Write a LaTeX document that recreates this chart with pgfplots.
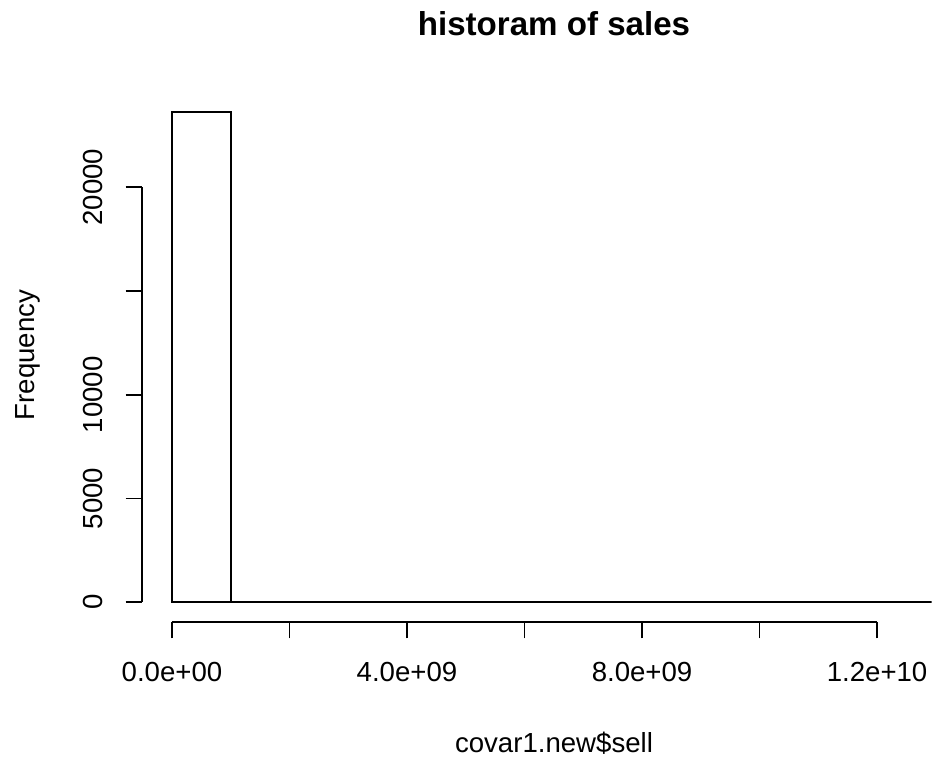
\documentclass[border=0pt]{standalone}
\usepackage{pgfplots}
\pgfplotsset{compat=1.18}
\usepackage{fontspec}
\setmainfont{Liberation Sans}
\begin{document}
\begin{tikzpicture}
\begin{axis}[
  at={(0pt,0pt)}, anchor=south west,
  scale only axis,
  width=789.7pt, height=529.3pt,
  xmin=-0.51, xmax=12.93,
  ymin=-949, ymax=24560,
  axis line style={draw=none},
  clip mode=individual,
  tick pos=left,
  tick align=outside,
  major tick length=16.5pt,
  tick style={black, line width=1.75pt},
  scaled x ticks=false,
  scaled y ticks=false,
  xtick={0,2,4,6,8,10,12},
  xticklabels={0.0e+00,,4.0e+09,,8.0e+09,,1.2e+10},
  ytick={0,5000,10000,15000,20000},
  yticklabels={0,5000,10000,,20000},
  /pgf/number format/assume math mode=true,
  xticklabel style={font=\fontsize{27.6}{33}\selectfont, anchor=base, inner sep=0pt},
  yticklabel style={font=\fontsize{27.6}{33}\selectfont, rotate=90, anchor=south, inner sep=0pt},
  xticklabel shift=43.5pt,
  yticklabel shift=22.2pt,
]
\addplot[ybar interval, draw=black, fill=none, line width=1.75pt]
  coordinates {(0,23614) (1,9) (2,4) (3,2) (4,2) (5,1) (6,1) (7,0) (8,1) (9,0) (10,0) (11,1) (12,1) (13,0)};
\draw[line width=1.75pt] (axis cs:0,-949) -- (axis cs:12,-949);
\draw[line width=1.75pt] (axis cs:-0.51,0) -- (axis cs:-0.51,20000);
\end{axis}
\node[anchor=base, font=\bfseries\fontsize{33.1}{40}\selectfont, inner sep=0pt] at (412pt,586pt) {historam of sales};
\node[anchor=base, font=\fontsize{27.6}{33}\selectfont, inner sep=0pt] at (412pt,-131pt) {covar1.new\$sell};
\node[anchor=base, rotate=90, font=\fontsize{27.6}{33}\selectfont, inner sep=0pt] at (-107.7pt,267pt) {Frequency};
\pgfresetboundingbox
\path (-142pt,-137pt) rectangle (790pt,622pt);
\end{tikzpicture}
\end{document}
